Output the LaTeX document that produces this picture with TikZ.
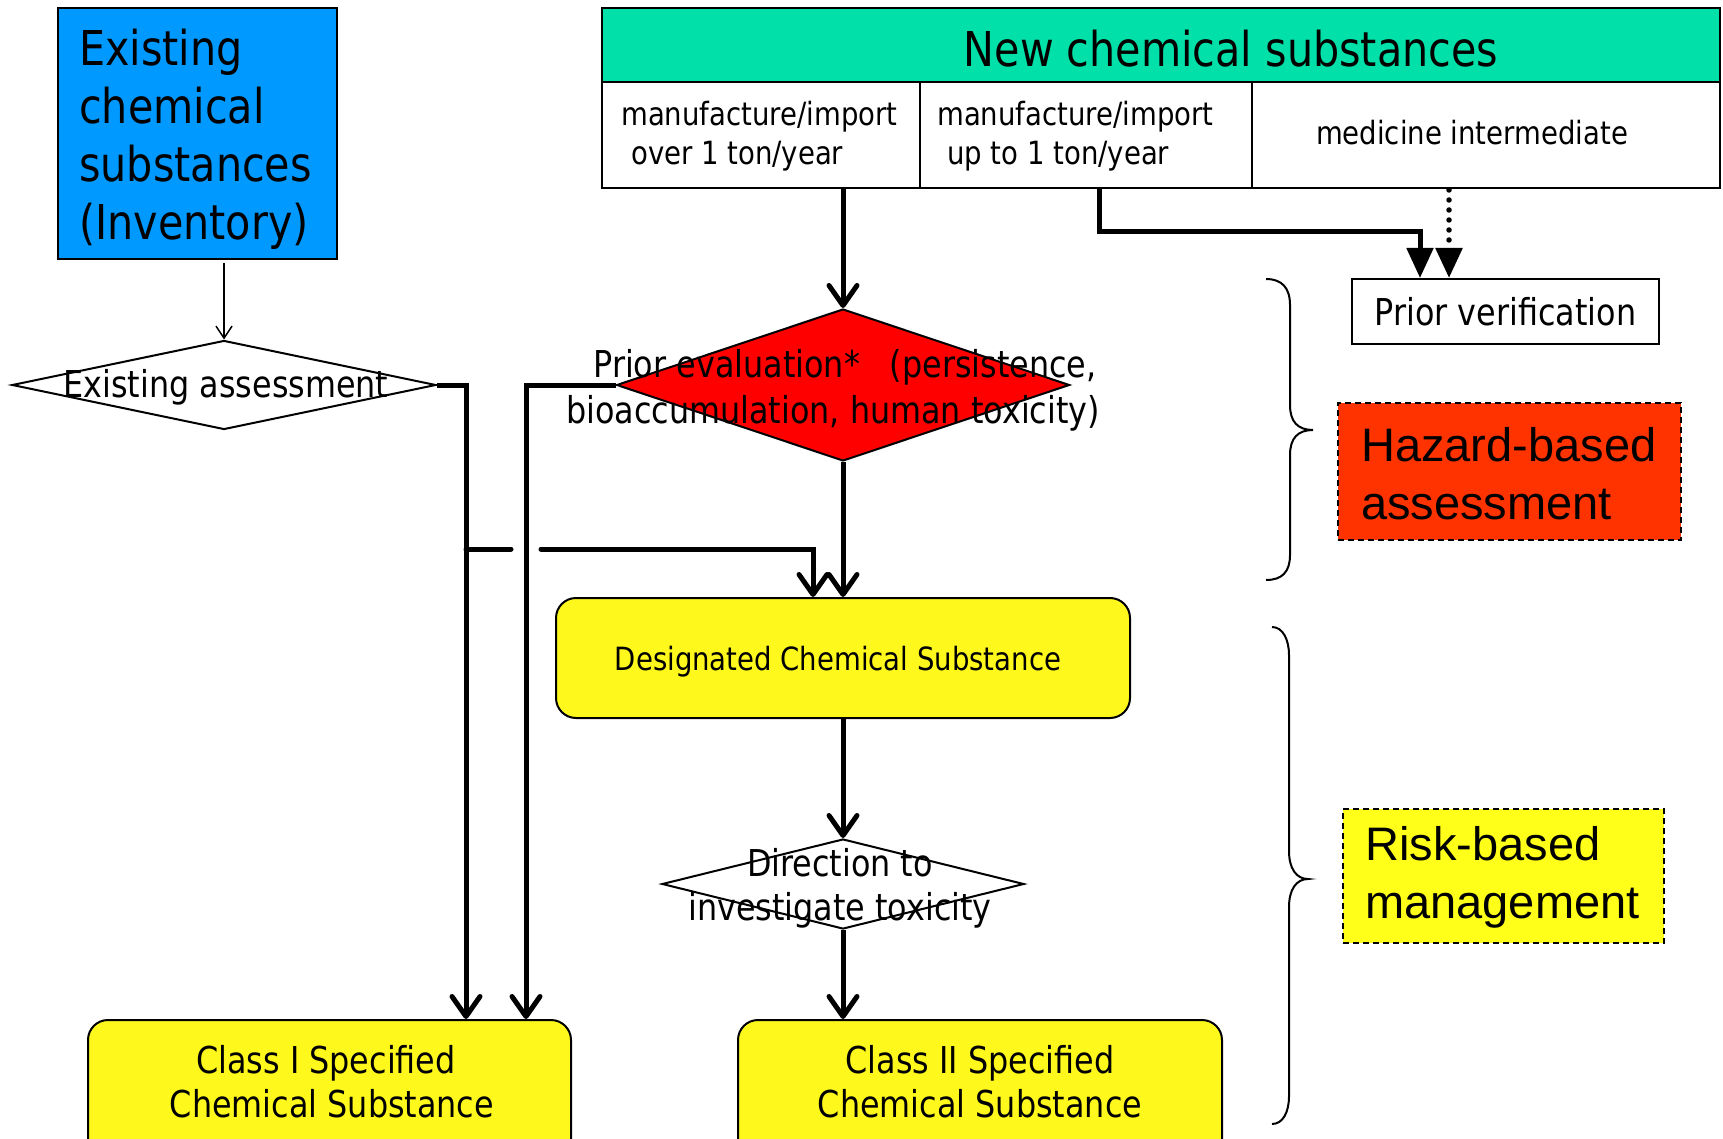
\documentclass[tikz,border=0pt]{standalone}
\usepackage{fontspec}
\setmainfont{DejaVu Sans}[FakeStretch=0.86]
\newfontfamily\arialfont{Liberation Sans}
\usetikzlibrary{arrows.meta,shapes.geometric,calc}
\definecolor{exblue}{HTML}{0099FF}
\definecolor{newgreen}{HTML}{00E0A8}
\definecolor{boxyellow}{HTML}{FFF81C}
\definecolor{hazred}{HTML}{FF3300}
\definecolor{riskyellow}{HTML}{FFFF1A}
\begin{document}
\begin{tikzpicture}[x=1pt,y=-1pt,
  thinbox/.style={draw=black,line width=2pt,inner sep=0pt,rectangle},
  txt/.style={inner sep=0pt,align=center},
  rbox/.style={draw=black,line width=2pt,fill=boxyellow,rounded corners=20pt,inner sep=0pt,rectangle},
  dia/.style={draw=black,line width=2pt,diamond,inner sep=0pt},
  flowline/.style={line width=5pt},
  varrow/.style={flowline,-{Straight Barb[length=20pt,width=28pt,round]}},
  tarrow/.style={flowline,-{Triangle[length=30pt,width=26pt]}},
  notebox/.style={draw=black,line width=1.6pt,dash pattern=on 6pt off 4pt,inner sep=0pt,rectangle},
  bracepath/.style={line width=2pt}
]
\useasboundingbox (0,0) rectangle (1723,1139);
\clip (0,0) rectangle (1723,1139);
\fill[white] (0,0) rectangle (1723,1139);

% existing substances
\node[thinbox,fill=exblue,minimum width=279pt,minimum height=251pt] (exbox) at (197.5,133.5) {};
\node[txt,align=left,anchor=west,font=\fontsize{48}{58}\selectfont] (extext) at (79,139)
  {Existing\\chemical\\substances\\(Inventory)};

% new substances table
\node[thinbox,fill=newgreen,minimum width=1118pt,minimum height=74pt] (hdr) at (1161,45) {};
\node[txt,font=\fontsize{48}{58}\selectfont] (hdrtext) at (1231,49) {New chemical substances};
\node[thinbox,fill=white,minimum width=318pt,minimum height=106pt] (c1) at (761,135) {};
\node[thinbox,fill=white,minimum width=332pt,minimum height=106pt] (c2) at (1086,135) {};
\node[thinbox,fill=white,minimum width=468pt,minimum height=106pt] (c3) at (1486,135) {};
\node[txt,align=left,anchor=west,font=\fontsize{32}{39}\selectfont] (c1text) at (621,136)
  {manufacture/import\\\hspace*{10pt}over 1 ton/year};
\node[txt,align=left,anchor=west,font=\fontsize{32}{39}\selectfont] (c2text) at (937,136)
  {manufacture/import\\\hspace*{10pt}up to 1 ton/year};
\node[txt,font=\fontsize{32}{39}\selectfont] (c3text) at (1472,133) {medicine intermediate};

% prior verification
\node[thinbox,fill=white,minimum width=307pt,minimum height=65pt,font=\fontsize{37}{44}\selectfont] (pv) at (1505.5,311.5) {Prior verification};

% diamonds
\node[dia,fill=red,minimum width=453pt,minimum height=152pt] (rd) at (843,385) {};
\node[txt,font=\fontsize{37}{46}\selectfont] (rdtext) at (833,390)
  {\hspace*{24pt}Prior evaluation*\hspace{30pt}(persistence,\\bioaccumulation, human toxicity)};
\node[dia,fill=white,minimum width=424pt,minimum height=89pt] (ed) at (224,385) {};
\node[txt,font=\fontsize{37}{44}\selectfont] (edtext) at (226,387) {Existing assessment};
\node[dia,fill=white,minimum width=362pt,minimum height=90pt] (dd) at (843,884) {};
\node[txt,font=\fontsize{37}{44}\selectfont] (ddtext) at (840,888) {Direction to\\investigate toxicity};

% yellow boxes
\node[rbox,minimum width=574pt,minimum height=120pt] (des) at (843,658) {};
\node[txt,font=\fontsize{32}{39}\selectfont] (destext) at (838,662) {Designated Chemical Substance};
\node[rbox,minimum width=483pt,minimum height=160pt] (cls1) at (329.5,1100) {};
\node[txt,font=\fontsize{37}{44}\selectfont] (cls1text) at (326,1082) {Class I Specified\\\hspace*{12pt}Chemical Substance};
\node[rbox,minimum width=484pt,minimum height=160pt] (cls2) at (980,1100) {};
\node[txt,font=\fontsize{37}{44}\selectfont] (cls2text) at (980,1082) {Class II Specified\\Chemical Substance};

% notes
\node[notebox,fill=hazred,minimum width=343pt,minimum height=137pt] (haz) at (1509.5,471.5) {};
\node[txt,align=left,anchor=west,font=\arialfont\fontsize{47}{58}\selectfont] (haztext) at (1361,474) {Hazard-based\\assessment};
\node[notebox,fill=riskyellow,minimum width=321pt,minimum height=134pt] (risk) at (1503.5,876) {};
\node[txt,align=left,anchor=west,font=\arialfont\fontsize{47}{58}\selectfont] (risktext) at (1365,877) {Risk-based\\management};

% coordinates
\coordinate (exout) at ($(ed.north)+(0,-76)$);
\coordinate (lx1) at (466,385);
\coordinate (lx2) at (526,385);
\coordinate (br0) at (466,549);
\coordinate (br1) at (511,549);
\coordinate (br2) at (541,549);
\coordinate (br3) at (813,549);
\coordinate (c2out) at (1099,188);
\coordinate (c2mid) at (1099,232);
\coordinate (pvin1) at (1420,232);
\coordinate (c3out) at (1449,190);

% connectors
\draw[line width=1.5pt,-{Straight Barb[length=12pt,width=16pt]}] (exout) -- (ed.north);
\draw[varrow] (ed.east) -- (lx1) -- (lx1 |- cls1.north);
\draw[varrow] (rd.west) -- (lx2) -- (lx2 |- cls1.north);
\draw[flowline,line cap=round] (br0) -- (br1);
\draw[varrow,line cap=round] (br2) -- (br3) -- (br3 |- des.north);
\draw[varrow] (rd.north |- c1.south) -- (rd.north);
\draw[varrow] (rd.south) -- (des.north);
\draw[varrow] (des.south) -- (dd.north);
\draw[varrow] (dd.south) -- (dd.south |- cls2.north);
\draw[tarrow] (c2out) -- (c2mid) -- (pvin1) -- (pvin1 |- pv.north);
\draw[tarrow,line width=5.5pt,line cap=round,dash pattern=on 0pt off 10pt] (c3out) -- (c3out |- pv.north);

% braces
\draw[bracepath] (1266,279) .. controls (1282,279) and (1290,288) .. (1290,305) -- (1290,405)
  .. controls (1290,422) and (1298,430) .. (1313,430)
  .. controls (1298,430) and (1290,438) .. (1290,455) -- (1290,555)
  .. controls (1290,572) and (1282,580) .. (1266,580);
\draw[bracepath] (1272,627) .. controls (1283,627) and (1289,640) .. (1289,655) -- (1289,851)
  .. controls (1289,868) and (1296,879) .. (1308,879)
  .. controls (1296,879) and (1289,890) .. (1289,907) -- (1289,1096)
  .. controls (1289,1112) and (1283,1124) .. (1272,1124);
\end{tikzpicture}
\end{document}
